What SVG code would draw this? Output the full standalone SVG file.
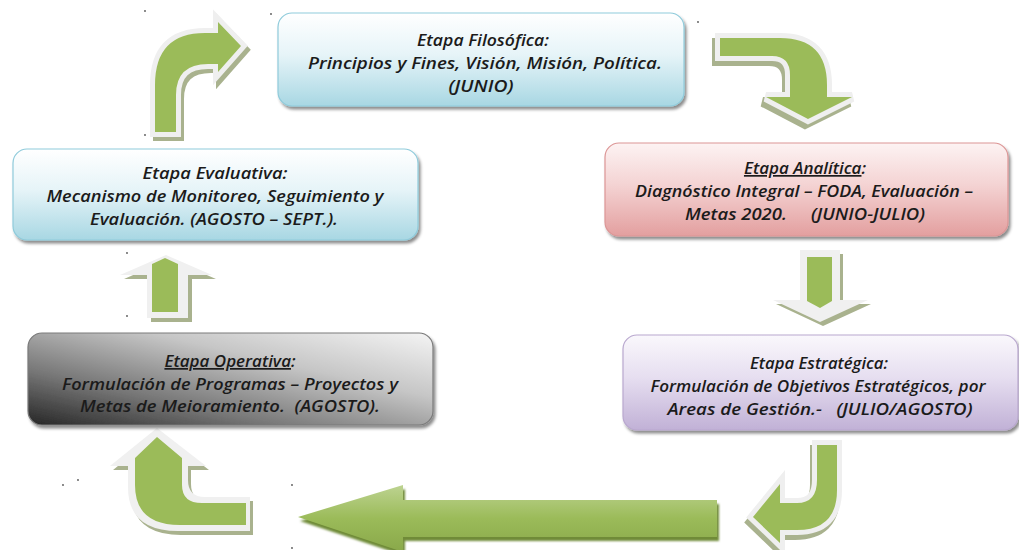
<svg xmlns="http://www.w3.org/2000/svg" width="1019" height="550" viewBox="0 0 1019 550">
<defs>
<linearGradient id="gCyan" x1="0" y1="0" x2="0" y2="1">
<stop offset="0" stop-color="#ffffff"/><stop offset="0.45" stop-color="#e6f4f8"/><stop offset="1" stop-color="#a8d7e3"/>
</linearGradient>
<linearGradient id="gPink" x1="0" y1="0" x2="0" y2="1">
<stop offset="0" stop-color="#fdf3f3"/><stop offset="0.45" stop-color="#f4d3d3"/><stop offset="1" stop-color="#e39f9f"/>
</linearGradient>
<linearGradient id="gPurple" x1="0" y1="0" x2="0" y2="1">
<stop offset="0" stop-color="#faf8fc"/><stop offset="0.45" stop-color="#e6def0"/><stop offset="1" stop-color="#c1b1d6"/>
</linearGradient>
<linearGradient id="gGray" x1="0" y1="1" x2="1" y2="0">
<stop offset="0" stop-color="#262626"/><stop offset="0.3" stop-color="#777777"/><stop offset="0.65" stop-color="#c6c6c6"/><stop offset="1" stop-color="#f4f4f4"/>
</linearGradient>
<linearGradient id="gBig" x1="0" y1="0" x2="0" y2="1">
<stop offset="0" stop-color="#bdd391"/><stop offset="0.5" stop-color="#9bbb59"/><stop offset="1" stop-color="#89a84a"/>
</linearGradient>
<filter id="sh" x="-5%" y="-10%" width="115%" height="130%">
<feDropShadow dx="2" dy="3" stdDeviation="1.5" flood-color="#000" flood-opacity="0.45"/>
</filter>
<filter id="blur1"><feGaussianBlur stdDeviation="0.8"/></filter>
</defs>
<style>
.t{font-family:"Open Sans","Liberation Sans",sans-serif;font-style:italic;font-weight:600;font-size:17px;fill:#1b1b1b;text-anchor:middle}
.u{text-decoration:underline}
.box{filter:url(#sh)}
.grn{fill:#9bbb59}
.out{fill:#efefef;stroke:#efefef;stroke-width:10;stroke-linejoin:miter}
.shd{fill:#a9b28e;stroke:#a9b28e;stroke-width:10;stroke-linejoin:miter}
.shd2{fill:#a9b28e}
.out2{fill:#f0f0f0}
.dot{fill:#555}
</style>

<g id="connectors">
  <g id="arrowA">
    <path class="shd" transform="translate(3,4)" d="M155,132 L155,85 Q155,33 205,33 L218,33 L218,22 L241,46 L218,72 L218,64 L208,64 Q176,64 176,95 L176,132 Z"/>
    <path class="out" d="M155,132 L155,85 Q155,33 205,33 L218,33 L218,22 L241,46 L218,72 L218,64 L208,64 Q176,64 176,95 L176,132 Z"/>
    <path class="grn" d="M155,132 L155,85 Q155,33 205,33 L218,33 L218,22 L241,46 L218,72 L218,64 L208,64 Q176,64 176,95 L176,132 Z"/>
  </g>
  <g id="arrowB">
    <path class="shd" transform="translate(-3,5)" d="M720,38 L780,38 Q827,38 827,85 L827,97 L852,97 L808,119 L766,97 L790,97 L790,75 Q790,56 772,56 L720,56 Z"/>
    <path class="out" d="M720,38 L780,38 Q827,38 827,85 L827,97 L852,97 L808,119 L766,97 L790,97 L790,75 Q790,56 772,56 L720,56 Z"/>
    <path class="grn" d="M720,38 L780,38 Q827,38 827,85 L827,97 L852,97 L808,119 L766,97 L790,97 L790,75 Q790,56 772,56 L720,56 Z"/>
  </g>
  <g id="arrowC">
    <path class="shd2" transform="translate(3,4)" d="M800,250 L840,250 L840,300 L868,300 L820,322 L773,300 L800,300 Z"/>
    <path class="out2" d="M800,250 L840,250 L840,300 L868,300 L820,322 L773,300 L800,300 Z"/>
    <path class="grn" d="M807,257 L832,257 L832,301 L820,308 L807,301 Z"/>
  </g>
  <g id="arrowD">
    <path class="shd" transform="translate(-2,5)" d="M817,445 L837,445 L837,490 Q837,530 797,530 L780,530 L780,543 L753,517 L780,484 L780,503 L797,503 Q817,503 817,480 Z"/>
    <path class="out" d="M817,445 L837,445 L837,490 Q837,530 797,530 L780,530 L780,543 L753,517 L780,484 L780,503 L797,503 Q817,503 817,480 Z"/>
    <path class="grn" d="M817,445 L837,445 L837,490 Q837,530 797,530 L780,530 L780,543 L753,517 L780,484 L780,503 L797,503 Q817,503 817,480 Z"/>
  </g>
  <g id="arrowE">
    <path fill="#6f8b38" transform="translate(2,4)" d="M717,500 L717,537 L403,537 L403,552 L298,517 L403,485 L403,500 Z" filter="url(#blur1)"/>
    <path fill="url(#gBig)" d="M717,500 L717,537 L403,537 L403,552 L298,517 L403,485 L403,500 Z"/>
  </g>
  <g id="arrowF">
    <path class="shd2" transform="translate(3,4)" d="M157,428 L206,466 L188,466 L188,480 Q188,497 205,497 L250,497 L250,531 L178,531 Q128,531 128,487 L128,466 L110,466 Z"/>
    <path class="out2" d="M157,428 L206,466 L188,466 L188,480 Q188,497 205,497 L250,497 L250,531 L178,531 Q128,531 128,487 L128,466 L110,466 Z"/>
    <path class="grn" d="M135,458 L157,437 L182,458 L182,485 Q182,503 202,503 L246,503 L246,525 L180,525 Q135,525 135,485 Z"/>
  </g>
  <g id="arrowG">
    <path class="shd2" transform="translate(4,4)" d="M166,255 L212,275 L188,275 L188,318 L147,318 L147,275 L120,275 Z"/>
    <path class="out2" d="M166,255 L212,275 L188,275 L188,318 L147,318 L147,275 L120,275 Z"/>
    <path class="grn" d="M165,258 L178,264 L178,312 L152,312 L152,264 Z"/>
  </g>
</g>

<g id="filosofica">
  <rect class="box" x="278" y="13" width="406" height="93" rx="14" fill="url(#gCyan)" stroke="#8fcbdb" stroke-width="1.2"/>
  <text class="t" x="483" y="46" textLength="132" lengthAdjust="spacingAndGlyphs">Etapa Filosófica:</text>
  <text class="t" x="485" y="69" textLength="354" lengthAdjust="spacingAndGlyphs">Principios y Fines, Visión, Misión, Política.</text>
  <text class="t" x="481" y="92" textLength="65" lengthAdjust="spacingAndGlyphs">(JUNIO)</text>
</g>

<g id="analitica">
  <rect class="box" x="605" y="143" width="403" height="93" rx="14" fill="url(#gPink)" stroke="#dc9696" stroke-width="1.2"/>
  <text class="t" x="805" y="174"><tspan class="u">Etapa Analítica</tspan>:</text>
  <text class="t" x="804" y="197" textLength="338" lengthAdjust="spacingAndGlyphs">Diagnóstico Integral – FODA, Evaluación –</text>
  <text class="t" x="805" y="220" xml:space="preserve" textLength="240" lengthAdjust="spacingAndGlyphs">Metas 2020.     (JUNIO-JULIO)</text>
</g>

<g id="estrategica">
  <rect class="box" x="623" y="335" width="395" height="95" rx="14" fill="url(#gPurple)" stroke="#b9a8cf" stroke-width="1.2"/>
  <text class="t" x="819" y="369" textLength="138" lengthAdjust="spacingAndGlyphs">Etapa Estratégica:</text>
  <text class="t" x="818" y="392" textLength="335" lengthAdjust="spacingAndGlyphs">Formulación de Objetivos Estratégicos, por</text>
  <text class="t" x="820" y="415" xml:space="preserve" textLength="305" lengthAdjust="spacingAndGlyphs">Areas de Gestión.-   (JULIO/AGOSTO)</text>
</g>

<g id="operativa">
  <rect class="box" x="28" y="333" width="405" height="92" rx="14" fill="url(#gGray)" stroke="#7a7a7a" stroke-width="1.2"/>
  <text class="t" x="230" y="367"><tspan class="u">Etapa Operativa</tspan>:</text>
  <text class="t" x="230" y="390" textLength="336" lengthAdjust="spacingAndGlyphs">Formulación de Programas – Proyectos y</text>
  <text class="t" x="230" y="412" xml:space="preserve" textLength="300" lengthAdjust="spacingAndGlyphs">Metas de Meioramiento.  (AGOSTO).</text>
</g>

<g id="evaluativa">
  <rect class="box" x="13" y="149" width="405" height="91" rx="14" fill="url(#gCyan)" stroke="#8fcbdb" stroke-width="1.2"/>
  <text class="t" x="215" y="179" textLength="145" lengthAdjust="spacingAndGlyphs">Etapa Evaluativa:</text>
  <text class="t" x="215" y="202" textLength="337" lengthAdjust="spacingAndGlyphs">Mecanismo de Monitoreo, Seguimiento y</text>
  <text class="t" x="214" y="225" textLength="248" lengthAdjust="spacingAndGlyphs">Evaluación. (AGOSTO – SEPT.).</text>
</g>

<g id="dots">
  <circle class="dot" cx="145" cy="11" r="0.9"/>
  <circle class="dot" cx="271" cy="14" r="0.9"/>
  <circle class="dot" cx="145" cy="135" r="0.9"/>
  <circle class="dot" cx="698" cy="22" r="0.9"/>
  <circle class="dot" cx="127" cy="253" r="0.9"/>
  <circle class="dot" cx="127" cy="316" r="0.9"/>
  <circle class="dot" cx="63" cy="485" r="0.9"/>
  <circle class="dot" cx="78" cy="480" r="0.9"/>
  <circle class="dot" cx="292" cy="485" r="0.9"/>
  <circle class="dot" cx="292" cy="548" r="0.9"/>
</g>
</svg>
